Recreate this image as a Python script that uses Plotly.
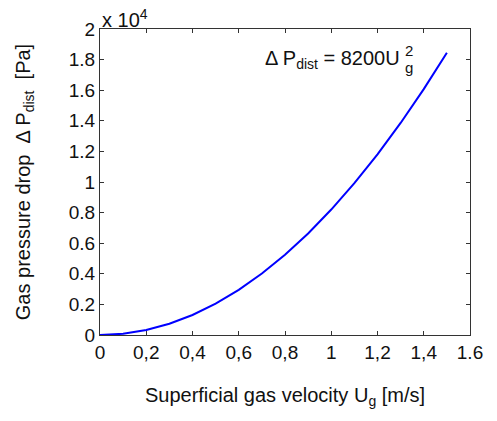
import plotly.graph_objects as go

# Data
velocity = [0.0, 0.1, 0.2, 0.3, 0.4, 0.5, 0.6, 0.7, 0.8, 0.9, 1.0, 1.1, 1.2, 1.3, 1.4, 1.5]
pressure_drop = [0, 80, 330, 740, 1310, 2050, 2950, 4020, 5250, 6640, 8200, 9920, 11800, 13860, 16070, 18450]

x_tickvals = [0, 0.2, 0.4, 0.6, 0.8, 1.0, 1.2, 1.4, 1.6]
x_ticktext = ["0", "0,2", "0,4", "0,6", "0,8", "1", "1,2", "1,4", "1.6"]
y_tickvals = [0, 2000, 4000, 6000, 8000, 10000, 12000, 14000, 16000, 18000, 20000]
y_ticktext = ["0", "0.2", "0.4", "0.6", "0.8", "1", "1.2", "1.4", "1.6", "1.8", "2"]

FONT = "Liberation Sans, Arial, Helvetica, sans-serif"
TXT = "#111111"

fig = go.Figure()
fig.add_trace(go.Scatter(x=velocity, y=pressure_drop, mode="lines",
                         line=dict(color="#0000ff", width=2), showlegend=False))

axis_common = dict(showgrid=False, zeroline=False, showline=True, linecolor="#333333",
                   linewidth=1, mirror="ticks", ticks="inside", ticklen=4,
                   tickcolor="#333333", tickfont=dict(family=FONT, size=19, color=TXT))

fig.update_xaxes(range=[0, 1.6], tickvals=x_tickvals, ticktext=x_ticktext,
                 title=dict(text="Superficial gas velocity U<sub>g</sub> [m/s]",
                            font=dict(family=FONT, size=20, color=TXT), standoff=26),
                 **axis_common)
fig.update_yaxes(range=[0, 20000], tickvals=y_tickvals, ticktext=y_ticktext,
                 title=dict(text="Gas pressure drop  Δ P<sub>dist</sub>  [Pa]",
                            font=dict(family=FONT, size=20, color=TXT), standoff=32),
                 **axis_common)

fig.add_annotation(x=0, y=1, xref="paper", yref="paper", xanchor="left", yanchor="bottom",
                   text="x 10<sup>4</sup>", showarrow=False, yshift=-4,
                   font=dict(family=FONT, size=20, color=TXT))
fig.add_annotation(x=0.815, y=0.90, xref="paper", yref="paper", xanchor="right", yanchor="middle",
                   text="Δ P<sub>dist</sub> = 8200U", showarrow=False,
                   font=dict(family=FONT, size=20, color=TXT))
fig.add_annotation(x=0.815, y=0.875, xref="paper", yref="paper", xanchor="left", yanchor="middle",
                   text="g", showarrow=False, xshift=1,
                   font=dict(family=FONT, size=15, color=TXT))
fig.add_annotation(x=0.815, y=0.93, xref="paper", yref="paper", xanchor="left", yanchor="middle",
                   text="2", showarrow=False, xshift=1,
                   font=dict(family=FONT, size=15, color=TXT))

fig.update_layout(width=497, height=421, margin=dict(l=100, r=27, t=29, b=86),
                  plot_bgcolor="white", paper_bgcolor="white",
                  font=dict(family=FONT, size=19, color=TXT))

fig.write_html("out.html")
